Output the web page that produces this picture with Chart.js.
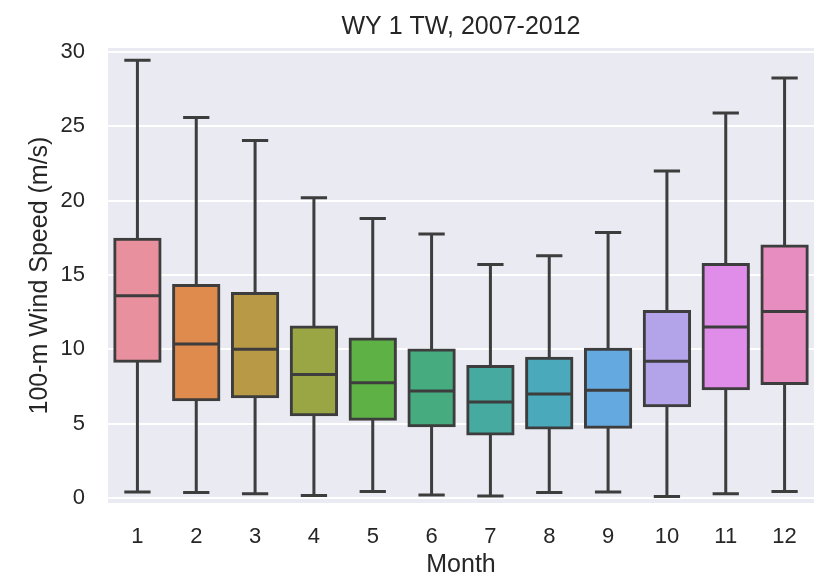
<!DOCTYPE html>
<html>
<head>
<meta charset="utf-8">
<script src="https://cdn.jsdelivr.net/npm/chart.js@4"></script>
<style>
  html, body { margin: 0; padding: 0; background: #ffffff; }
  #wrap { width: 822px; height: 576px; }
</style>
</head>
<body>
<div id="wrap"><canvas id="windBox"></canvas></div>
<script>
const months = ['1', '2', '3', '4', '5', '6', '7', '8', '9', '10', '11', '12'];
const whiskerLow = [0.4, 0.36, 0.29, 0.16, 0.43, 0.2, 0.13, 0.36, 0.4, 0.09, 0.29, 0.43];
const q1 = [9.2, 6.6, 6.8, 5.6, 5.3, 4.85, 4.3, 4.7, 4.75, 6.2, 7.35, 7.7];
const median = [13.6, 10.35, 10.0, 8.3, 7.75, 7.2, 6.45, 7.0, 7.25, 9.2, 11.5, 12.55];
const q3 = [17.4, 14.3, 13.75, 11.5, 10.7, 9.95, 8.85, 9.4, 10.0, 12.55, 15.7, 16.95];
const whiskerHigh = [29.45, 25.6, 24.05, 20.2, 18.8, 17.75, 15.7, 16.3, 17.85, 22.0, 25.9, 28.25];
const yTicks = [0, 5, 10, 15, 20, 25, 30];

const boxColors = [
  '#e8909e', '#e08b4e', '#b89a46', '#9aa544', '#5db145', '#47ab80',
  '#47aaa0', '#4aa9bb', '#64aae0', '#b3a3e8', '#df8de8', '#e88dc0'
];
const lineColor = '#3d3d3d';
const textColor = '#262626';
const fontFamily = '"Liberation Sans", Arial, sans-serif';

// seaborn style grey panel behind the plot
const panelBackground = {
  id: 'panelBackground',
  beforeDraw(chart) {
    const { ctx, chartArea } = chart;
    ctx.save();
    ctx.fillStyle = '#eaeaf2';
    ctx.fillRect(chartArea.left, chartArea.top, chartArea.right - chartArea.left, chartArea.bottom - chartArea.top);
    ctx.restore();
  }
};

// whiskers + caps under the boxes, medians on top of them
const boxWhiskers = {
  id: 'boxWhiskers',
  beforeDatasetsDraw(chart) {
    const { ctx } = chart;
    const xs = chart.scales.x, ys = chart.scales.y;
    const bars = chart.getDatasetMeta(0).data;
    ctx.save();
    ctx.strokeStyle = lineColor;
    ctx.lineWidth = 3;
    ctx.lineCap = 'butt';
    months.forEach((m, i) => {
      const x = xs.getPixelForValue(i);
      const half = bars[i].width * 0.29;
      ctx.beginPath();
      ctx.moveTo(x, ys.getPixelForValue(whiskerLow[i]));
      ctx.lineTo(x, ys.getPixelForValue(q1[i]));
      ctx.moveTo(x, ys.getPixelForValue(q3[i]));
      ctx.lineTo(x, ys.getPixelForValue(whiskerHigh[i]));
      ctx.moveTo(x - half, ys.getPixelForValue(whiskerLow[i]));
      ctx.lineTo(x + half, ys.getPixelForValue(whiskerLow[i]));
      ctx.moveTo(x - half, ys.getPixelForValue(whiskerHigh[i]));
      ctx.lineTo(x + half, ys.getPixelForValue(whiskerHigh[i]));
      ctx.stroke();
    });
    ctx.restore();
  },
  afterDatasetsDraw(chart) {
    const { ctx } = chart;
    const xs = chart.scales.x, ys = chart.scales.y;
    const bars = chart.getDatasetMeta(0).data;
    ctx.save();
    ctx.strokeStyle = lineColor;
    ctx.lineWidth = 3;
    months.forEach((m, i) => {
      const x = xs.getPixelForValue(i);
      const half = bars[i].width / 2;
      const y = ys.getPixelForValue(median[i]);
      ctx.beginPath();
      ctx.moveTo(x - half, y);
      ctx.lineTo(x + half, y);
      ctx.stroke();
    });
    ctx.restore();
  }
};

const chartConfig = {
  type: 'bar',
  data: {
    labels: months,
    datasets: [
      {
        label: 'IQR',
        data: months.map((m, i) => [q1[i], q3[i]]),
        backgroundColor: boxColors,
        borderColor: lineColor,
        borderWidth: 3,
        borderSkipped: false,
        inflateAmount: 1.5, // centre the outline on the quartile values
        barPercentage: 0.77,
        categoryPercentage: 1.0,
      },
    ]
  },
  options: {
    responsive: true,
    maintainAspectRatio: false,
    animation: false,
    layout: { padding: { left: 0, right: 8, top: 0, bottom: 0 } },
    plugins: {
      legend: { display: false },
      tooltip: { enabled: false },
      title: {
        display: true,
        fullSize: false, // centre over the plot, not the canvas
        text: 'WY 1 TW, 2007-2012',
        color: textColor,
        font: { family: fontFamily, size: 25, weight: 'normal' },
        padding: { top: 12, bottom: 6 },
      },
    },
    scales: {
      x: {
        grid: { display: false, drawTicks: false },
        border: { display: false },
        ticks: {
          color: textColor,
          font: { family: fontFamily, size: 22 },
          padding: 21,
        },
        title: {
          display: true,
          text: 'Month',
          color: textColor,
          font: { family: fontFamily, size: 25, lineHeight: 0.8 },
          padding: { top: 0, bottom: 1 },
        },
        afterFit(scale) { scale.height = 73; },
      },
      y: {
        min: -0.34,
        max: 30.27,
        grid: { color: '#ffffff', lineWidth: 2, drawTicks: false },
        border: { display: false },
        afterBuildTicks(scale) { scale.ticks = yTicks.map((v) => ({ value: v })); },
        ticks: {
          color: textColor,
          font: { family: fontFamily, size: 22 },
          padding: 23,
        },
        title: {
          display: true,
          text: '100-m Wind Speed (m/s)',
          color: textColor,
          font: { family: fontFamily, size: 25 },
          padding: { top: 25, bottom: 0 },
        },
        afterFit(scale) { scale.width = 108; },
      },
    },
  },
  plugins: [panelBackground, boxWhiskers],
};

const chart = new Chart(document.getElementById('windBox'), chartConfig);
</script>
</body>
</html>
